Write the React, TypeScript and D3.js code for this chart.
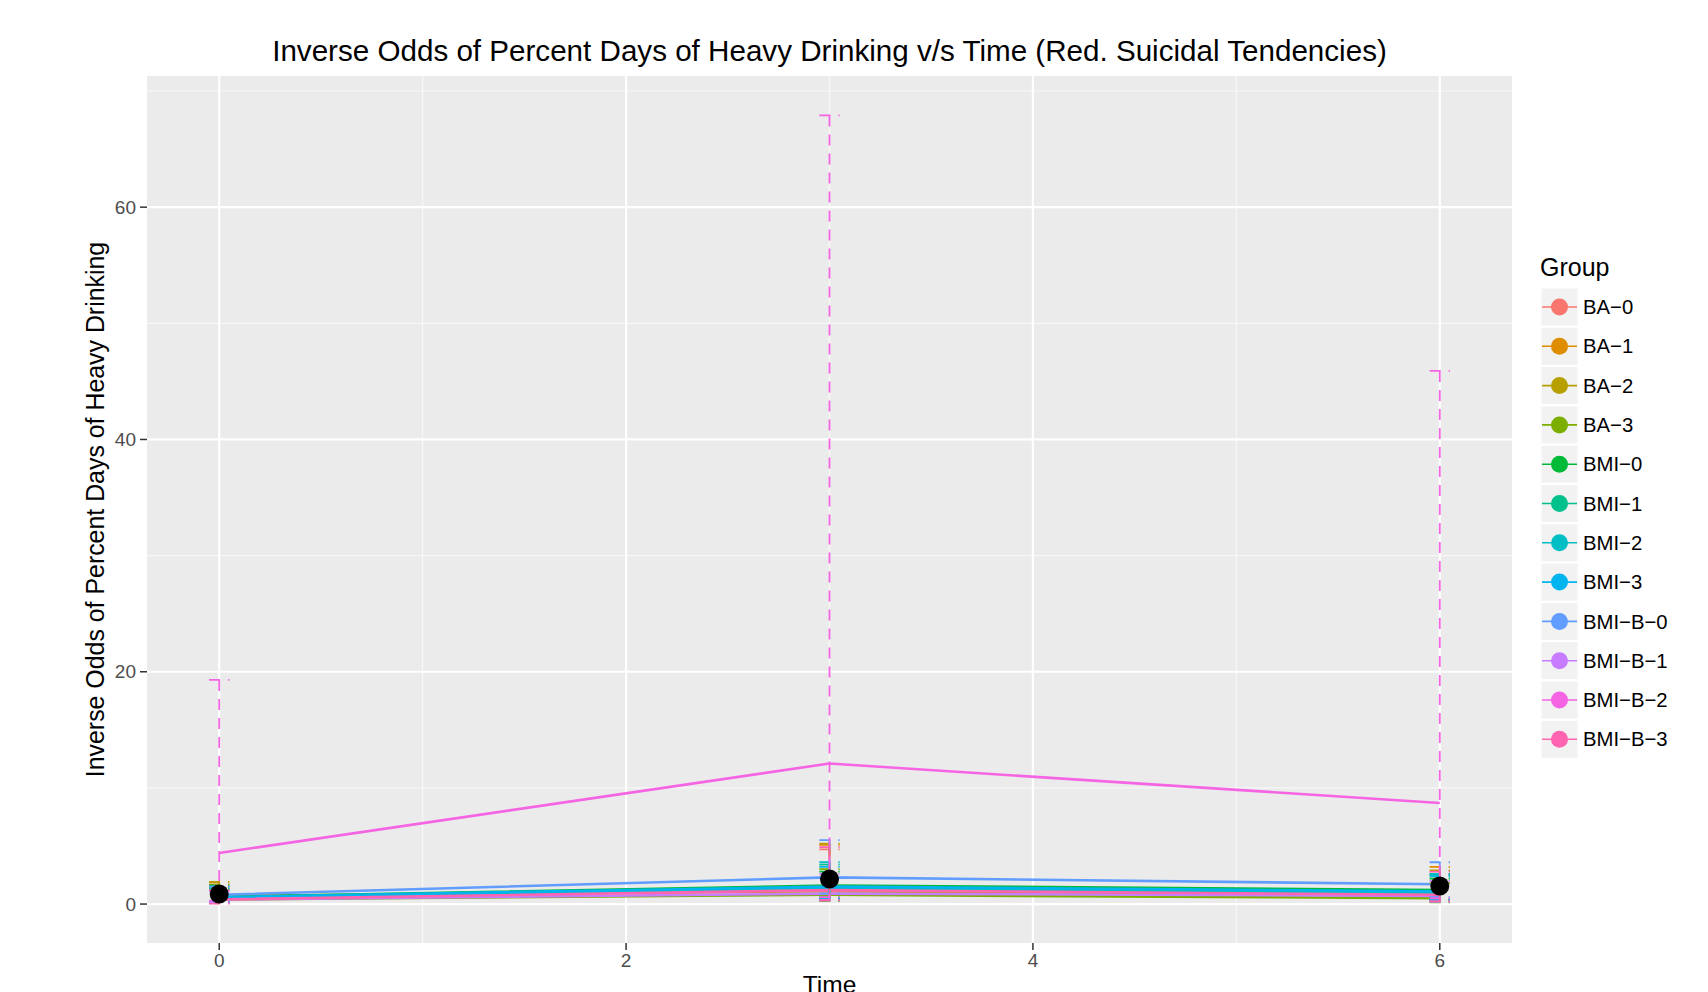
import React from "react";
import * as d3 from "d3";

const times = [0, 3, 6];
const groups = ["BA−0", "BA−1", "BA−2", "BA−3", "BMI−0", "BMI−1", "BMI−2", "BMI−3", "BMI−B−0", "BMI−B−1", "BMI−B−2", "BMI−B−3"];
const groupColors = ["#F8766D", "#DE8C00", "#B79F00", "#7CAE00", "#00BA38", "#00C08B", "#00BFC4", "#00B4F0", "#619CFF", "#C77CFF", "#F564E3", "#FF64B0"];

// inverse odds per group at times 0, 3, 6
const groupMeans = [
  [0.5, 1.3, 0.9],
  [0.6, 1.2, 1.0],
  [0.7, 1.1, 0.7],
  [0.4, 0.8, 0.5],
  [0.6, 1.6, 1.2],
  [0.5, 1.4, 1.0],
  [0.5, 1.3, 0.9],
  [0.6, 1.5, 1.1],
  [0.8, 2.3, 1.7],
  [0.4, 0.9, 0.7],
  [4.4, 12.1, 8.7],
  [0.4, 1.2, 0.8],
];
const groupUpper = [
  [1.3, 4.7, 2.6],
  [1.7, 5.1, 3.2],
  [1.9, 5.2, 2.9],
  [1.4, 3.0, 1.8],
  [1.6, 2.8, 2.2],
  [1.3, 3.4, 2.5],
  [1.2, 3.6, 2.6],
  [1.5, 3.2, 2.4],
  [1.5, 5.5, 3.6],
  [1.1, 2.6, 2.0],
  [19.3, 67.9, 45.9],
  [1.2, 4.9, 2.8],
];
const groupLower = [
  [0.15, 0.4, 0.3],
  [0.2, 0.35, 0.3],
  [0.2, 0.3, 0.2],
  [0.1, 0.25, 0.15],
  [0.2, 0.6, 0.4],
  [0.15, 0.5, 0.35],
  [0.15, 0.4, 0.3],
  [0.2, 0.5, 0.4],
  [0.25, 0.9, 0.6],
  [0.1, 0.3, 0.2],
  [0.3, 0.6, 0.5],
  [0.04, 0.35, 0.25],
];
const overallMeans = [0.86, 2.15, 1.55];
const xTicks = [0, 2, 4, 6];
const yTicks = [0, 20, 40, 60];
const xMinor = [1, 3, 5];
const yMinor = [10, 30, 50, 70];

const W = 1708;
const H = 992;
const P = { left: 147, right: 1512, top: 76, bottom: 943 };
const ERR_W = 0.1;

export default function App() {
  const xLo = d3.min(times)! - ERR_W / 2;
  const xHi = d3.max(times)! + ERR_W / 2;
  const xPad = (xHi - xLo) * 0.05;
  const x = d3.scaleLinear().domain([xLo - xPad, xHi + xPad]).range([P.left, P.right]);

  const yLo = d3.min(groupLower.flat())!;
  const yHi = d3.max(groupUpper.flat())!;
  const yPad = (yHi - yLo) * 0.05;
  const y = d3.scaleLinear().domain([yLo - yPad, yHi + yPad]).range([P.bottom, P.top]);

  const line = d3
    .line<number>()
    .x((_, i) => x(times[i]))
    .y((d) => y(d));

  const font = "'Liberation Sans', Arial, sans-serif";
  const legendX = 1541;
  const legendY0 = 307;
  const legendStep = 39.3;

  return (
    <div style={{ position: "absolute", left: 0, top: 0 }}>
      <svg width={W} height={H} style={{ display: "block", background: "#fff" }} fontFamily={font}>
        <rect x={P.left} y={P.top} width={P.right - P.left} height={P.bottom - P.top} fill="#EBEBEB" />
        {xMinor.map((t) => (
          <line key={"xm" + t} x1={x(t)} x2={x(t)} y1={P.top} y2={P.bottom} stroke="#F7F7F7" strokeWidth={1.2} />
        ))}
        {yMinor.map((t) => (
          <line key={"ym" + t} x1={P.left} x2={P.right} y1={y(t)} y2={y(t)} stroke="#F7F7F7" strokeWidth={1.2} />
        ))}
        {xTicks.map((t) => (
          <line key={"xg" + t} x1={x(t)} x2={x(t)} y1={P.top} y2={P.bottom} stroke="#FFFFFF" strokeWidth={2.2} />
        ))}
        {yTicks.map((t) => (
          <line key={"yg" + t} x1={P.left} x2={P.right} y1={y(t)} y2={y(t)} stroke="#FFFFFF" strokeWidth={2.2} />
        ))}

        {groupMeans.map((vals, gi) => (
          <path key={"l" + gi} d={line(vals)!} fill="none" stroke={groupColors[gi]} strokeWidth={2.6} />
        ))}

        {groupMeans.map((vals, gi) =>
          times.map((t, ti) => {
            const hi = y(groupUpper[gi][ti]);
            const lo = y(groupLower[gi][ti]);
            const a = x(t - ERR_W / 2);
            const b = x(t + ERR_W / 2);
            const c = x(t);
            return (
              <g key={"e" + gi + "-" + ti} stroke={groupColors[gi]} strokeWidth={1.8} strokeDasharray="11,8" fill="none">
                <line x1={a} x2={b} y1={hi} y2={hi} />
                <line x1={c} x2={c} y1={hi} y2={lo} />
                <line x1={a} x2={b} y1={lo} y2={lo} />
              </g>
            );
          })
        )}

        {overallMeans.map((v, i) => (
          <circle key={"m" + i} cx={x(times[i])} cy={y(v)} r={9.5} fill="#000" />
        ))}

        {/* axes */}
        {yTicks.map((t) => (
          <g key={"yt" + t}>
            <line x1={P.left - 7} x2={P.left} y1={y(t)} y2={y(t)} stroke="#333" strokeWidth={1.5} />
            <text x={P.left - 11} y={y(t)} dy="0.35em" textAnchor="end" fontSize={19} fill="#4D4D4D">
              {t}
            </text>
          </g>
        ))}
        {xTicks.map((t) => (
          <g key={"xt" + t}>
            <line x1={x(t)} x2={x(t)} y1={P.bottom} y2={P.bottom + 7} stroke="#333" strokeWidth={1.5} />
            <text x={x(t)} y={967} textAnchor="middle" fontSize={19} fill="#4D4D4D">
              {t}
            </text>
          </g>
        ))}

        <text x={(P.left + P.right) / 2} y={61} textAnchor="middle" fontSize={29.6} fill="#000">
          Inverse Odds of Percent Days of Heavy Drinking v/s Time (Red. Suicidal Tendencies)
        </text>
        <text x={(P.left + P.right) / 2} y={993} textAnchor="middle" fontSize={24.5} fill="#000">
          Time
        </text>
        <text
          transform={`translate(104,${(P.top + P.bottom) / 2}) rotate(-90)`}
          textAnchor="middle"
          fontSize={24.9}
          fill="#000"
        >
          Inverse Odds of Percent Days of Heavy Drinking
        </text>

        {/* legend */}
        <text x={1540} y={276} fontSize={25} fill="#000">
          Group
        </text>
        {groups.map((g, i) => {
          const cy = legendY0 + i * legendStep;
          return (
            <g key={"lg" + g}>
              <rect x={legendX} y={cy - 19} width={37} height={38} fill="#F2F2F2" stroke="#fff" strokeWidth={1} />
              <line x1={legendX + 1} x2={legendX + 36} y1={cy} y2={cy} stroke={groupColors[i]} strokeWidth={1.6} />
              <circle cx={legendX + 18.5} cy={cy} r={8.5} fill={groupColors[i]} />
              <text x={1583} y={cy} dy="0.35em" fontSize={20.3} fill="#000">
                {g}
              </text>
            </g>
          );
        })}
      </svg>
    </div>
  );
}
